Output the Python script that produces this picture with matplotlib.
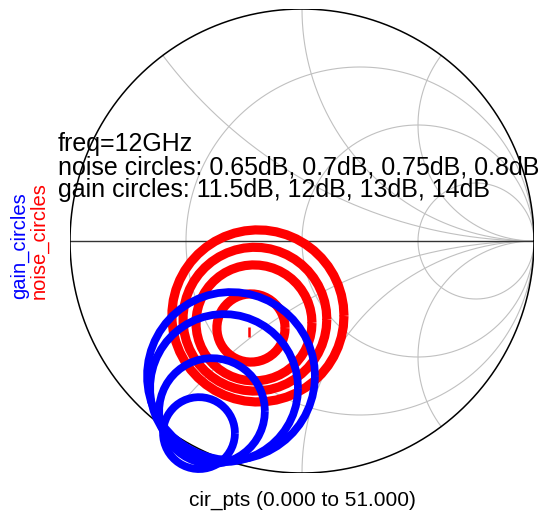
import numpy as np
import matplotlib.pyplot as plt

plt.rcParams['font.family'] = ['Liberation Sans', 'DejaVu Sans']

# noise circles 0.8, 0.75, 0.7, 0.65 dB (centre / radius in the gamma plane)
noise_cx = [-0.190, -0.203, -0.207, -0.220]
noise_cy = [-0.323, -0.337, -0.353, -0.375]
noise_r = [0.371, 0.310, 0.250, 0.147]
gamma_opt_x = [-0.228]
gamma_opt_y = [-0.392]

# gain circles 11.5, 12, 13, 14 dB
gain_cx = [-0.306, -0.336, -0.388, -0.444]
gain_cy = [-0.582, -0.634, -0.733, -0.828]
gain_r = [0.362, 0.319, 0.228, 0.155]

# smith chart grid
r_grid = [1 / 3, 1, 3]
x_grid = [0.5, 1, 2, -0.5, -1, -2]

cir_pts = np.arange(0, 52)
ang = 2 * np.pi * cir_pts / 51

fig = plt.figure(figsize=(5.48, 5.13), dpi=100)
ax = fig.add_axes([70 / 548, 40 / 513, 464 / 548, 464 / 513])
ax.set_xlim(-1, 1)
ax.set_ylim(-1, 1)
ax.axis('off')

grid_col = '#c0c0c0'
t = np.linspace(0, 2 * np.pi, 400)
for r in r_grid:
    c = r / (1 + r)
    rad = 1 / (1 + r)
    ax.plot(c + rad * np.cos(t), rad * np.sin(t), color=grid_col, lw=0.8)
for x in x_grid:
    rr = np.tan(np.linspace(0, np.pi / 2 - 1e-3, 600))
    z = rr + 1j * x
    g = (z - 1) / (z + 1)
    ax.plot(g.real, g.imag, color=grid_col, lw=0.8)

ax.plot([-1, 1], [0, 0], color='#333333', lw=1.0)
ax.plot(np.cos(t), np.sin(t), color='black', lw=1.1)

# noise circles
for cx, cy, r in zip(noise_cx, noise_cy, noise_r):
    ax.plot(cx + r * np.cos(ang), cy + r * np.sin(ang), color='red', lw=6.6,
            solid_capstyle='butt', clip_on=False)
ax.plot(gamma_opt_x, gamma_opt_y, marker='|', color='red', ms=7, mew=1.8, ls='none')

# gain circles
for cx, cy, r in zip(gain_cx, gain_cy, gain_r):
    ax.plot(cx + r * np.cos(ang), cy + r * np.sin(ang), color='blue', lw=5.6,
            solid_capstyle='butt', clip_on=False)

# annotations
fig.text(58 / 548, 1 - 151 / 513, 'freq=12GHz', fontsize=18, ha='left', va='baseline')
fig.text(58 / 548, 1 - 174 / 513, 'noise circles: 0.65dB, 0.7dB, 0.75dB, 0.8dB',
         fontsize=18, ha='left', va='baseline')
fig.text(58 / 548, 1 - 197 / 513, 'gain circles: 11.5dB, 12dB, 13dB, 14dB',
         fontsize=18, ha='left', va='baseline')

fig.text(25 / 548, 1 - 299 / 513, 'gain_circles', color='blue', fontsize=14.5,
         rotation=90, rotation_mode='anchor', ha='left', va='baseline')
fig.text(44 / 548, 1 - 299 / 513, 'noise_circles', color='red', fontsize=14.5,
         rotation=90, rotation_mode='anchor', ha='left', va='baseline')

fig.text(302 / 548, 1 - 500 / 513, 'cir_pts (0.000 to 51.000)', fontsize=15,
         ha='center', va='center')

fig.savefig('out.png', dpi=100)
